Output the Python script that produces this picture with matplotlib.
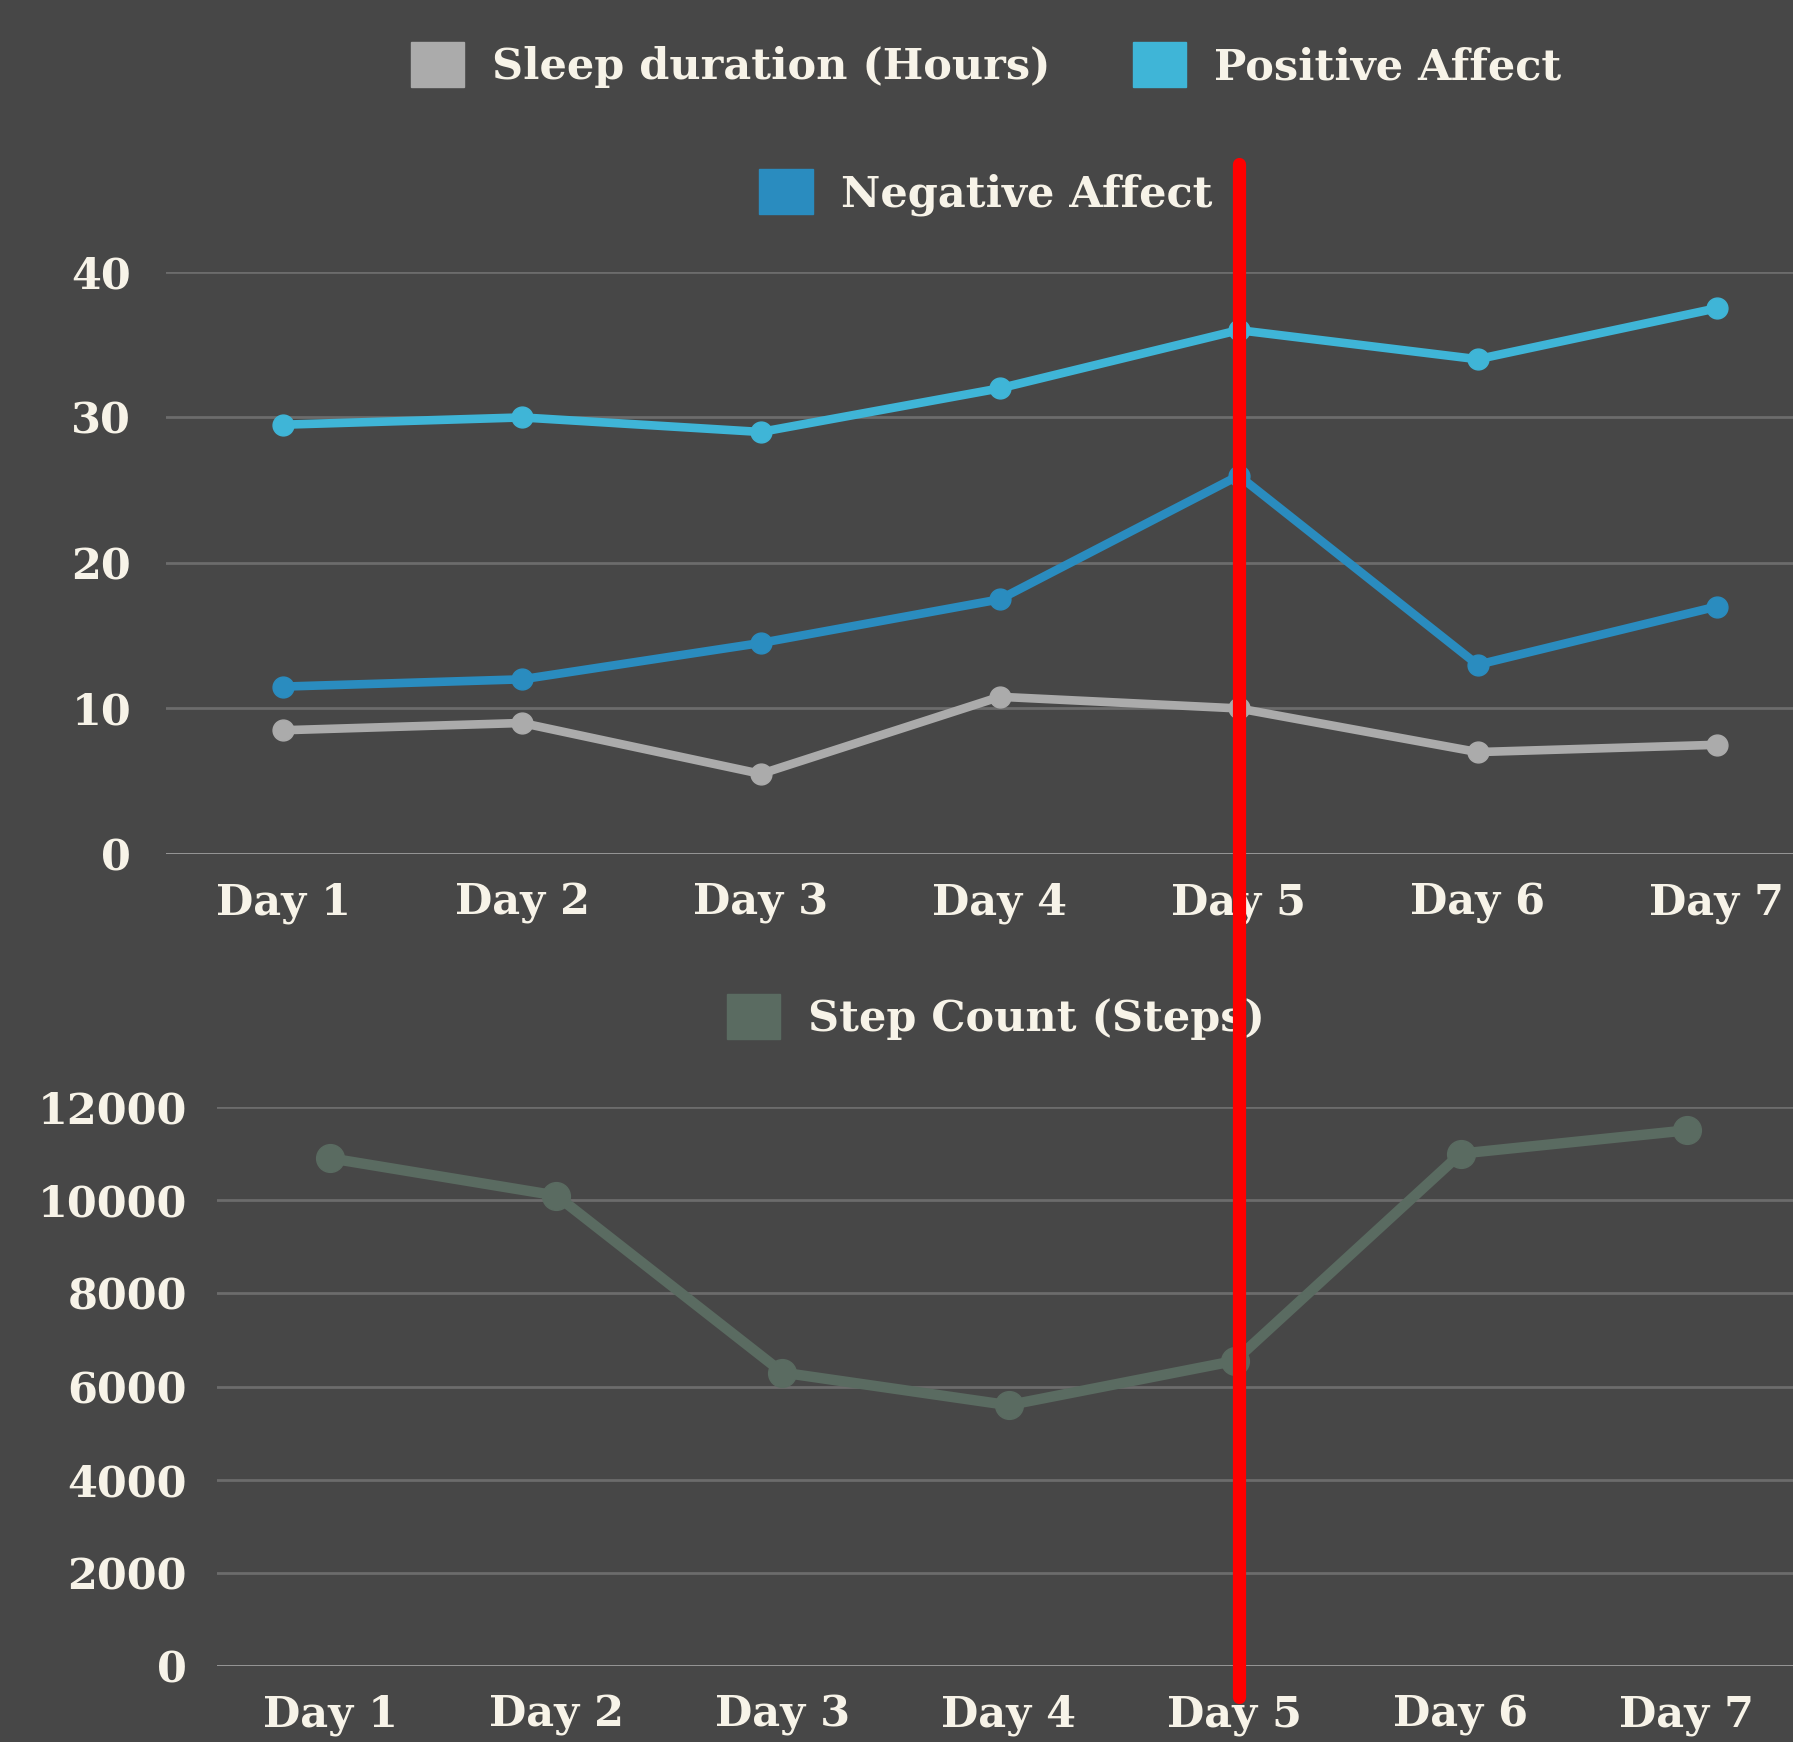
import matplotlib
matplotlib.use("Agg")
import matplotlib.pyplot as plt
import matplotlib.transforms as mtransforms
from matplotlib.patches import Patch
from matplotlib.lines import Line2D

days = ["Day 1", "Day 2", "Day 3", "Day 4", "Day 5", "Day 6", "Day 7"]
sleep_hours = [8.5, 9.0, 5.5, 10.8, 10.0, 7.0, 7.5]
positive_affect = [29.5, 30.0, 29.0, 32.0, 36.0, 34.0, 37.5]
negative_affect = [11.5, 12.0, 14.5, 17.5, 26.0, 13.0, 17.0]
step_count = [10900, 10100, 6300, 5600, 6550, 11000, 11500]
marker_day = "Day 5"

BG = "#474747"
TXT = "#f7f3e8"
GRID = "#6c6c6c"
C_SLEEP = "#ababab"
C_POS = "#3fb5d7"
C_NEG = "#2a8cbf"
C_STEP = "#5a6b61"

plt.rcParams["font.family"] = ["DejaVu Serif"]
plt.rcParams["font.weight"] = "bold"

fig = plt.figure(figsize=(17.93, 17.42), dpi=100, facecolor=BG)
ax1 = fig.add_axes([0.0926, 0.5098, 0.9074, 0.3341])
ax2 = fig.add_axes([0.1212, 0.0436, 0.8788, 0.3209])

x = list(range(len(days)))

for ax in (ax1, ax2):
    ax.set_facecolor(BG)
    for s in ax.spines.values():
        s.set_visible(False)
    ax.tick_params(length=0, colors=TXT, labelsize=31)
    ax.grid(axis="y", color=GRID, linewidth=2)
    ax.set_axisbelow(True)
    ax.set_xticks(x)
    ax.set_xticklabels(days)

# ── top chart ─────────────────────────────────────────────
ax1.plot(x, sleep_hours, color=C_SLEEP, lw=6.2, marker="o", ms=15, clip_on=False, zorder=3)
ax1.plot(x, positive_affect, color=C_POS, lw=6.2, marker="o", ms=15, clip_on=False, zorder=3)
ax1.plot(x, negative_affect, color=C_NEG, lw=6.2, marker="o", ms=15, clip_on=False, zorder=3)
ax1.set_ylim(0, 40)
ax1.set_yticks([0, 10, 20, 30, 40])
ax1.set_xlim(-0.49, 6.32)
ax1.axhline(0, color="#9a9a9a", lw=2, zorder=1)
ax1.tick_params(axis="y", pad=25)
ax1.tick_params(axis="x", pad=20)

# ── bottom chart ──────────────────────────────────────────
ax2.plot(x, step_count, color=C_STEP, lw=7.5, marker="o", ms=20, clip_on=False, zorder=3)
ax2.set_ylim(0, 12000)
ax2.set_yticks(range(0, 12001, 2000))
ax2.set_xlim(-0.5, 6.47)
ax2.axhline(0, color="#9a9a9a", lw=2, zorder=1)
ax2.tick_params(axis="y", pad=22)
ax2.tick_params(axis="x", pad=20)

# ── legends ───────────────────────────────────────────────
leg_kw = dict(frameon=False, labelcolor=TXT, handlelength=1.25,
              handleheight=1.25, handletextpad=0.65, columnspacing=1.9, loc="center",
              prop={"size": 31, "weight": "bold"})
fig.legend([Patch(color=C_SLEEP), Patch(color=C_POS)],
           ["Sleep duration (Hours)", "Positive Affect"], ncol=2,
           bbox_to_anchor=(0.55, 0.9627), **leg_kw)
fig.legend([Patch(color=C_NEG)], ["Negative Affect"],
           bbox_to_anchor=(0.55, 0.8897), **leg_kw)
fig.legend([Patch(color=C_STEP)], ["Step Count (Steps)"],
           bbox_to_anchor=(0.5555, 0.4163), **leg_kw)

# ── red marker line across both charts ────────────────────
trans = mtransforms.blended_transform_factory(ax1.transData, fig.transFigure)
xi = days.index(marker_day)
fig.add_artist(Line2D([xi, xi], [0.026, 0.906], transform=trans, color="#ff0000",
                      lw=9.5, solid_capstyle="round", zorder=10))

fig.savefig("out.png", dpi=100, facecolor=BG)
